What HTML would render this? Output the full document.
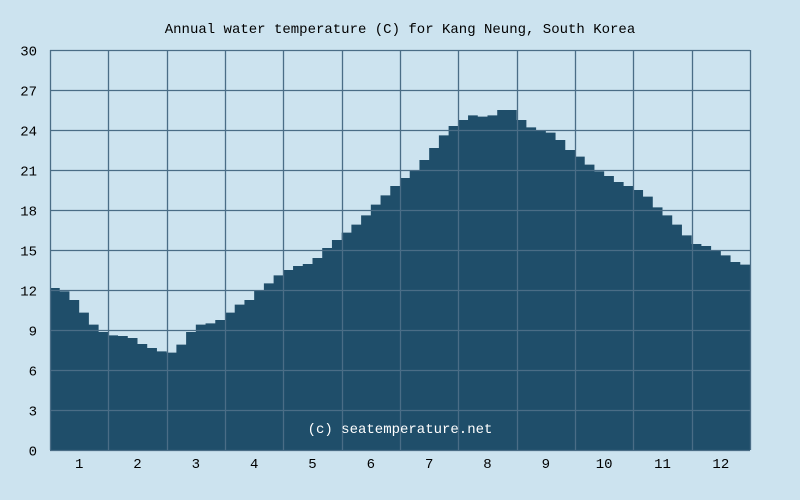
<!DOCTYPE html>
<html><head><meta charset="utf-8"><style>
html,body{margin:0;padding:0;background:#cce3ef;}
svg{display:block;font-family:"Liberation Mono",monospace;}
</style></head><body>
<svg width="800" height="500" xmlns="http://www.w3.org/2000/svg">
<rect x="0" y="0" width="800" height="500" fill="#cce3ef"/>
<text x="400" y="33" text-anchor="middle" font-size="14" fill="#000">Annual water temperature (C) for Kang Neung, South Korea</text>
<g id="area"></g>
<g id="grid"></g>
<g id="yt"></g>
<g id="xt"></g>
<text x="400" y="433" text-anchor="middle" font-size="14" fill="#fff">(c) seatemperature.net</text>
</svg>
<script>
const temps = [12.15,11.9,11.25,10.3,9.4,8.85,8.6,8.55,8.4,7.95,7.65,7.4,7.3,7.9,8.85,9.4,9.5,9.75,10.3,10.9,11.25,12,12.5,13.1,13.5,13.8,13.95,14.4,15.15,15.75,16.3,16.9,17.6,18.4,19.1,19.8,20.4,21,21.75,22.65,23.6,24.3,24.75,25.1,25,25.1,25.5,25.5,24.75,24.2,24,23.8,23.25,22.5,22,21.4,20.9,20.55,20.1,19.8,19.5,19,18.2,17.6,16.9,16.1,15.45,15.3,15,14.6,14.1,13.9];
const yTicks = [0,3,6,9,12,15,18,21,24,27,30];
const months = ["1","2","3","4","5","6","7","8","9","10","11","12"];
const X0=50,X1=750,Y0=450,Y1=50,YMAX=30;
const ns="http://www.w3.org/2000/svg";
const yS=v=>Y0-(v/YMAX)*(Y0-Y1);
const xS=i=>X0+i*(X1-X0)/temps.length;
let d=`M${X0},${Y0}`;
temps.forEach((t,i)=>{d+=` L${xS(i)},${yS(t)} L${xS(i+1)},${yS(t)}`;});
d+=` L${X1},${Y0} Z`;
const p=document.createElementNS(ns,'path');


p.setAttribute('d',d);p.setAttribute('fill','#1f4e6a');
document.getElementById('area').appendChild(p);
const g=document.getElementById('grid');
function ln(x1,y1,x2,y2,name){const l=document.createElementNS(ns,'line');


l.setAttribute('x1',x1);l.setAttribute('y1',y1);l.setAttribute('x2',x2);l.setAttribute('y2',y2);
l.setAttribute('stroke','#4a6d86');l.setAttribute('stroke-width','1.3');g.appendChild(l);}
yTicks.forEach(v=>{const y=Math.round(yS(v))+0.5;ln(X0,y,X1,y,'h-gridline');
const t=document.createElementNS(ns,'text');


t.setAttribute('x',37);t.setAttribute('y',y+5);t.setAttribute('text-anchor','end');t.setAttribute('font-size','14');
t.textContent=v;document.getElementById('yt').appendChild(t);});
const mw=(X1-X0)/months.length;
for(let i=0;i<=months.length;i++){const x=Math.round(X0+i*mw)+0.5;ln(x,Y1,x,Y0,'v-gridline');}
months.forEach((m,i)=>{const t=document.createElementNS(ns,'text');


t.setAttribute('x',X0+(i+0.5)*mw);t.setAttribute('y',468);t.setAttribute('text-anchor','middle');t.setAttribute('font-size','14');
t.textContent=m;document.getElementById('xt').appendChild(t);});
</script>
</body></html>
